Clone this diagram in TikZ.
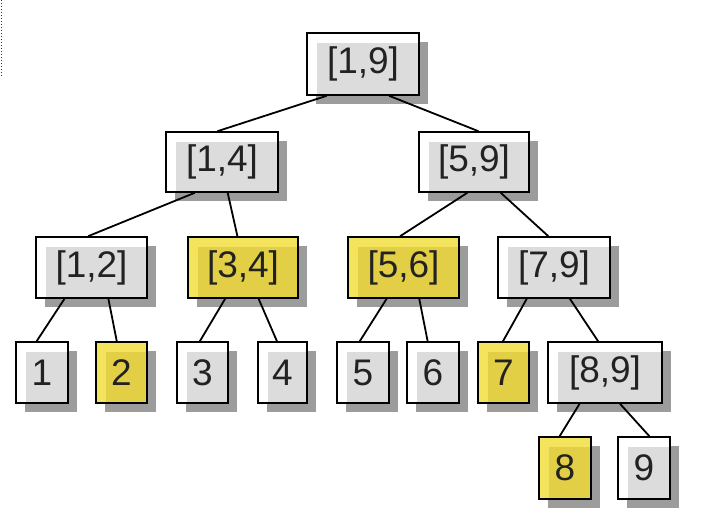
\documentclass[tikz,border=0pt]{standalone}
\usepackage{fontspec}
\setmainfont{Liberation Sans}
\usetikzlibrary{calc,shadows}
\definecolor{innergray}{HTML}{DCDCDC}
\definecolor{shadowgray}{HTML}{9C9C9C}
\definecolor{outeryellow}{HTML}{F4E35C}
\definecolor{inneryellow}{HTML}{E3CF45}
\definecolor{txt}{HTML}{222222}
\tikzset{
  tbox/.style={draw=black, line width=1.6pt, inner sep=0pt, minimum height=61pt,
    text=txt, font=\fontsize{37}{40}\selectfont,
    drop shadow={shadow xshift=9pt, shadow yshift=-9pt, fill=shadowgray, opacity=1}},
  grayfill/.style={fill=white, path picture={\fill[innergray]
      ([xshift=10pt,yshift=-10pt]path picture bounding box.north west) rectangle
      ([xshift=-1pt,yshift=1pt]path picture bounding box.south east);}},
  yellowfill/.style={fill=outeryellow, path picture={\fill[inneryellow]
      ([xshift=10pt,yshift=-10pt]path picture bounding box.north west) rectangle
      ([xshift=-1pt,yshift=1pt]path picture bounding box.south east);}},
  wide/.style={tbox, minimum width=111pt},
  leaf/.style={tbox, minimum width=51pt},
  link/.style={line width=1.8pt, black}
}
\newcommand\edgeline[4]{\draw[link] ($(#1.south west)!#2!(#1.south east)$) -- ($(#3.north west)!#4!(#3.north east)$);}
\begin{document}
\begin{tikzpicture}[x=1pt,y=1pt]
\useasboundingbox (0,0) rectangle (701,-522);
\fill[white] (0,0) rectangle (701,-522);
\draw[dotted, line width=1pt, black!80] (1,0) -- (1,-76);
% level 0
\node[wide, grayfill, minimum width=112pt, minimum height=62pt] (r) at (363,-64) {[1,9]};
% level 1
\node[wide, grayfill, minimum width=112pt, minimum height=60pt] (a) at (222,-162) {[1,4]};
\node[wide, grayfill, minimum width=110pt, minimum height=60pt] (b) at (474,-162) {[5,9]};
% level 2
\node[wide, grayfill] (c) at (91.5,-267.5) {[1,2]};
\node[wide, yellowfill, minimum width=110pt] (d) at (243,-267.5) {[3,4]};
\node[wide, yellowfill] (e) at (403.5,-267.5) {[5,6]};
\node[wide, grayfill, minimum width=112pt] (f) at (554,-267.5) {[7,9]};
% level 3
\node[leaf, grayfill, minimum width=52pt] (l1) at (42,-372.5) {1};
\node[leaf, yellowfill] (l2) at (121.5,-372.5) {2};
\node[leaf, grayfill] (l3) at (202.5,-372.5) {3};
\node[leaf, grayfill, minimum width=49pt] (l4) at (282.5,-372.5) {4};
\node[leaf, grayfill, minimum width=52pt] (l5) at (363,-372.5) {5};
\node[leaf, grayfill, minimum width=52pt] (l6) at (433,-372.5) {6};
\node[leaf, yellowfill] (l7) at (503.5,-372.5) {7};
\node[wide, grayfill, minimum width=114pt] (g) at (605,-372.5) {[8,9]};
% level 4
\node[leaf, yellowfill, minimum width=52pt, minimum height=62pt] (l8) at (565,-468) {8};
\node[leaf, grayfill, minimum width=52pt, minimum height=62pt] (l9) at (644,-468) {9};
% connectors
\edgeline{r}{0.18}{a}{0.46}
\edgeline{r}{0.73}{b}{0.54}
\edgeline{a}{0.26}{c}{0.47}
\edgeline{a}{0.55}{d}{0.45}
\edgeline{b}{0.44}{e}{0.47}
\edgeline{b}{0.74}{f}{0.45}
\edgeline{c}{0.26}{l1}{0.40}
\edgeline{c}{0.65}{l2}{0.41}
\edgeline{d}{0.34}{l3}{0.45}
\edgeline{d}{0.64}{l4}{0.39}
\edgeline{e}{0.35}{l5}{0.44}
\edgeline{e}{0.64}{l6}{0.40}
\edgeline{f}{0.26}{l7}{0.49}
\edgeline{f}{0.64}{g}{0.44}
\edgeline{g}{0.28}{l8}{0.40}
\edgeline{g}{0.63}{l9}{0.60}
\end{tikzpicture}
\end{document}
